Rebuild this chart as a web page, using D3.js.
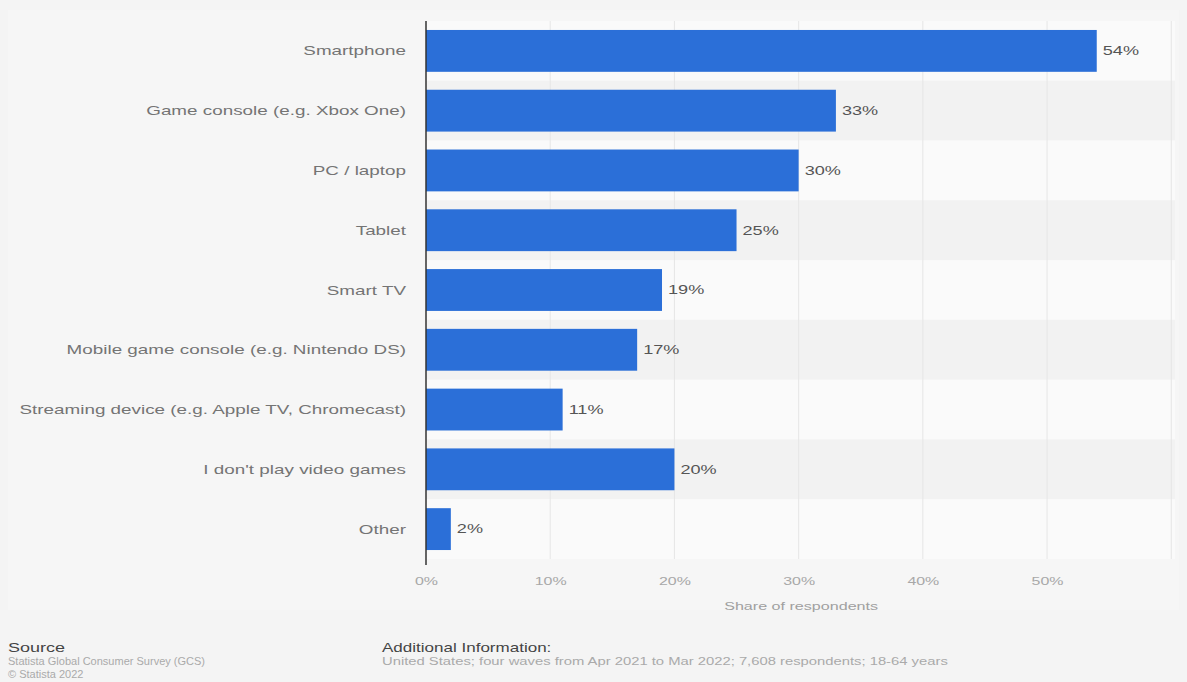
<!DOCTYPE html>
<html>
<head>
<meta charset="utf-8">
<script src="https://cdn.jsdelivr.net/npm/d3@7"></script>
<style>
  html, body { margin: 0; padding: 0; background: #f4f4f4; }
  svg { display: block; font-family: "Liberation Sans", Arial, sans-serif; }
</style>
</head>
<body>
<svg id="chart" width="1187" height="682"></svg>
<script>
// Devices used to play video games, share of respondents (%)
const categories = [
  "Smartphone",
  "Game console (e.g. Xbox One)",
  "PC / laptop",
  "Tablet",
  "Smart TV",
  "Mobile game console (e.g. Nintendo DS)",
  "Streaming device (e.g. Apple TV, Chromecast)",
  "I don't play video games",
  "Other"
];
const shares = [54, 33, 30, 25, 19, 17, 11, 20, 2];
const tickValues = [0, 10, 20, 30, 40, 50];
const axisTitle = "Share of respondents";
const sourceLines = ["Source", "Statista Global Consumer Survey (GCS)", "\u00A9 Statista 2022"];
const infoLines = ["Additional Information:", "United States; four waves from Apr 2021 to Mar 2022; 7,608 respondents; 18-64 years"];

const svg = d3.select("#chart");
const W = 1187, H = 682;
const m = { top: 21, right: 12, bottom: 123, left: 426 };
const WIDE = 1.4; // horizontal stretch of the chart lettering

const x = d3.scaleLinear().domain([0, 60.3]).range([m.left, W - m.right]);
const y = d3.scaleBand().domain(categories).range([m.top, H - m.bottom]).paddingInner(0.3).paddingOuter(0.15);
const band = d3.scaleBand().domain(categories).range([m.top, H - m.bottom]);

// places a text at (px, py), widened horizontally around its anchor
function wideText(sel, px, py, sx) {
  sel.attr("x", 0).attr("y", 0)
     .attr("transform", (d, i) => `translate(${px(d, i)},${py(d, i)}) scale(${sx},1)`);
}

// panel background
svg.append("rect").attr("x", 8).attr("y", 10).attr("width", W - 16).attr("height", 600)
  .attr("fill", "#f6f6f6");

// alternating row stripes
svg.append("g").selectAll("rect").data(categories).join("rect")
  .attr("x", m.left).attr("width", x(60.3) - m.left)
  .attr("y", d => band(d)).attr("height", band.bandwidth())
  .attr("fill", (d, i) => i % 2 === 0 ? "#fafafa" : "#f2f2f2");

// vertical grid lines
svg.append("g").selectAll("line").data(tickValues.slice(1).concat([60])).join("line")
  .attr("x1", d => x(d)).attr("x2", d => x(d))
  .attr("y1", m.top).attr("y2", H - m.bottom)
  .attr("stroke", "#e6e6e6").attr("stroke-width", 1);

// bars
svg.append("g").selectAll("rect").data(categories).join("rect")
  .attr("x", x(0)).attr("y", d => y(d))
  .attr("width", (d, i) => x(shares[i]) - x(0))
  .attr("height", y.bandwidth())
  .attr("fill", "#2b6fd8");

// value labels
svg.append("g").selectAll("text").data(categories).join("text")
  .call(wideText, (d, i) => x(shares[i]) + 6, d => y(d) + y.bandwidth() / 2, 1.45)
  .attr("dy", "0.35em")
  .attr("font-size", 12.5).attr("fill", "#555")
  .text((d, i) => shares[i] + "%");

// category labels
svg.append("g").selectAll("text").data(categories).join("text")
  .call(wideText, () => m.left - 20, d => y(d) + y.bandwidth() / 2, 1.45)
  .attr("dy", "0.35em")
  .attr("text-anchor", "end")
  .attr("font-size", 13).attr("fill", "#747474")
  .text(d => d);

// x axis
const xAxis = d3.axisBottom(x).tickValues(tickValues).tickFormat(d => d + "%").tickSize(0).tickPadding(18);
const gx = svg.append("g").attr("transform", `translate(0,${H - m.bottom})`).call(xAxis);
gx.select(".domain").remove();
gx.selectAll("text")
  .attr("font-size", 11).attr("fill", "#a8a8a8")
  .attr("font-family", "Liberation Sans, Arial, sans-serif")
  .attr("transform", `scale(1.45,1)`)
  .attr("x", 0);

// y axis line
svg.append("line").attr("x1", x(0)).attr("x2", x(0))
  .attr("y1", m.top).attr("y2", H - m.bottom + 6)
  .attr("stroke", "#333").attr("stroke-width", 1.5);

// axis title
svg.append("text")
  .call(wideText, () => x(30.2), () => 610, WIDE)
  .attr("text-anchor", "middle").attr("font-size", 11.5).attr("fill", "#a0a0a0")
  .text(axisTitle);

// footer: source
svg.append("g").selectAll("text").data(sourceLines).join("text")
  .attr("x", 0).attr("y", 0)
  .attr("transform", (d, i) => `translate(8,${652 + i * 13}) scale(${i === 0 ? 1.5 : 1.05},1)`)
  .attr("fill", (d, i) => i === 0 ? "#444" : "#aaa")
  .attr("font-size", (d, i) => i === 0 ? 12 : 10.5)
  .text(d => d);

// footer: additional information
svg.append("g").selectAll("text").data(infoLines).join("text")
  .attr("x", 0).attr("y", 0)
  .attr("transform", (d, i) => `translate(382,${652 + i * 13}) scale(${i === 0 ? 1.42 : 1.48},1)`)
  .attr("fill", (d, i) => i === 0 ? "#444" : "#aaa")
  .attr("font-size", (d, i) => i === 0 ? 12 : 10)
  .text(d => d);
</script>
</body>
</html>
